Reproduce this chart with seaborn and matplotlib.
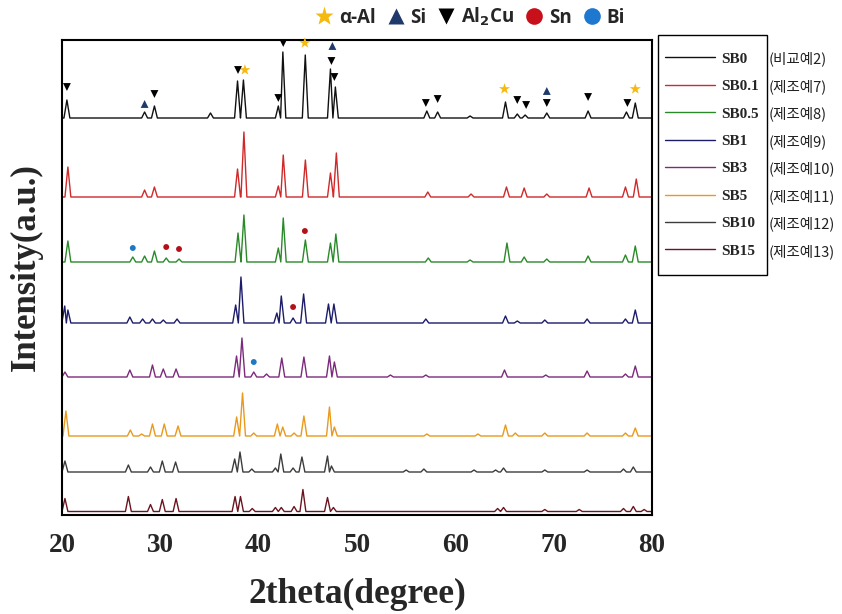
import numpy as np
import pandas as pd
import matplotlib.pyplot as plt
from matplotlib.lines import Line2D
from matplotlib.patches import Rectangle
import seaborn as sns

# samples, top to bottom
samples = ["SB0", "SB0.1", "SB0.5", "SB1", "SB3", "SB5", "SB10", "SB15"]
notes = ["(비교예2)", "(제조예7)", "(제조예8)", "(제조예9)",
         "(제조예10)", "(제조예11)", "(제조예12)", "(제조예13)"]
colors = ["#111111", "#cf2a2a", "#2a8a2a", "#1c1c6a",
          "#7c2a7c", "#e99a1c", "#3c3c3c", "#6a1420"]
# vertical stacking of the patterns (baseline of each trace)
offsets = [397, 318, 253, 192, 138, 79, 43, 3.5]

# peak positions (2theta) and heights
sb0_pos = [20.5, 28.4, 29.4, 35.1, 37.85, 38.45, 42.0, 42.46, 44.74, 47.3, 47.8,
           57.1, 58.2, 61.5, 65.1, 66.3, 67.1, 69.3, 73.5, 77.4, 78.3]
sb0_int = [18, 6, 12, 5, 37, 38, 12, 66, 63, 49, 31,
           7, 6, 2, 16, 4, 3, 5, 7, 6, 15]
sb01_pos = [20.6, 28.4, 29.4, 37.85, 38.5, 42.0, 42.5, 44.75, 47.3, 47.9,
            57.2, 61.6, 65.2, 67.0, 69.3, 73.6, 77.3, 78.4]
sb01_int = [30, 7, 10, 28, 65, 11, 42, 37, 24, 44,
            5, 3, 10, 9, 3, 9, 10, 18]
sb05_pos = [20.6, 27.2, 28.4, 29.4, 30.6, 31.9, 37.9, 38.5, 42.0, 42.5, 44.75,
            47.3, 47.85, 57.25, 61.5, 65.25, 67.0, 69.3, 73.5, 77.3, 78.3]
sb05_int = [21, 5, 6, 11, 4, 3, 29, 47, 14, 44, 22,
            19, 28, 4, 2, 19, 5, 3, 6, 7, 16]
sb1_pos = [20.28, 20.6, 26.9, 28.2, 29.2, 30.3, 31.7, 37.66, 38.2, 41.85, 42.3,
           43.5, 44.57, 47.1, 47.65, 57.0, 65.1, 66.3, 69.1, 73.4, 77.3, 78.3]
sb1_int = [17, 13, 6, 4, 4, 3, 4, 18, 46, 10, 27,
           5, 29, 19, 19, 4, 7, 2, 3, 4, 4, 13]
sb3_pos = [20.3, 26.9, 29.2, 30.3, 31.6, 37.75, 38.3, 39.5, 40.8, 42.35, 44.6,
           47.2, 47.7, 53.4, 57.0, 65.0, 69.2, 73.4, 77.3, 78.3]
sb3_int = [5, 7, 12, 8, 8, 21, 39, 5, 3, 19, 20,
           21, 15, 2, 2, 7, 2, 6, 3, 11]
sb5_pos = [20.4, 26.95, 28.1, 29.2, 30.4, 31.8, 37.76, 38.36, 39.5, 41.9, 42.45,
           43.6, 44.6, 47.2, 47.7, 57.1, 62.3, 65.1, 66.1, 69.1, 73.4, 77.3, 78.3]
sb5_int = [25, 6, 2, 12, 12, 10, 19, 43, 3, 12, 9,
           3, 20, 29, 9, 2, 2, 11, 3, 3, 3, 3, 8]
sb10_pos = [20.3, 26.75, 29.0, 30.2, 31.55, 37.56, 38.1, 39.3, 41.7, 42.25, 43.5,
            44.4, 47.0, 47.4, 55.0, 56.8, 61.9, 64.1, 64.9, 69.1, 73.4, 77.1, 78.1]
sb10_int = [11, 7, 5, 11, 10, 13, 20, 3, 4, 18, 4,
            15, 16, 6, 2, 3, 2, 2, 4, 2, 2, 3, 5]
sb15_pos = [20.3, 26.75, 29.0, 30.2, 31.6, 37.6, 38.15, 39.35, 41.7, 42.3, 43.6,
            44.5, 47.0, 47.6, 64.3, 64.9, 69.1, 72.6, 77.1, 78.1, 79.2]
sb15_int = [13, 15, 7, 12, 13, 15, 15, 3, 4, 4, 5,
            22, 14, 4, 3, 4, 2, 2, 3, 5, 2]

peak_pos = [sb0_pos, sb01_pos, sb05_pos, sb1_pos, sb3_pos, sb5_pos, sb10_pos, sb15_pos]
peak_int = [sb0_int, sb01_int, sb05_int, sb1_int, sb3_int, sb5_int, sb10_int, sb15_int]

# phase markers: 2theta, pattern index, height above that pattern's baseline
al_pos = [38.6, 44.7, 65.0, 78.3]
al_row = [0, 0, 0, 0]
al_lift = [48, 75, 29, 29]
si_pos = [28.4, 47.5, 69.3]
si_row = [0, 0, 0]
si_lift = [14, 72, 27]
cu_pos = [20.5, 29.4, 37.9, 42.0, 42.5, 47.4, 47.7, 57.0, 58.2, 66.3, 67.2, 69.3, 73.5, 77.5]
cu_row = [0] * 14
cu_lift = [31, 24, 48, 20, 75, 57, 41, 15, 19, 18, 13, 15, 21, 15]
sn_pos = [30.6, 31.9, 44.7, 43.5]
sn_row = [2, 2, 2, 3]
sn_lift = [15, 13, 31, 16]
bi_pos = [27.2, 39.5]
bi_row = [2, 4]
bi_lift = [14, 15]


def profile(pos, inten, w=0.3):
    # join peak tops with the baseline so every peak becomes a sharp spike
    xs, ys = [20.0], [0.0]
    for i, (p, h) in enumerate(zip(pos, inten)):
        left = w if i == 0 else min(w, (p - pos[i - 1]) / 2)
        right = w if i == len(pos) - 1 else min(w, (pos[i + 1] - p) / 2)
        xs += [p - left, p, p + right]
        ys += [0.0, h, 0.0]
    xs.append(80.0)
    ys.append(0.0)
    return xs, ys


rows = []
for name, pos, inten, off in zip(samples, peak_pos, peak_int, offsets):
    xs, ys = profile(pos, inten)
    for k, (x, y) in enumerate(zip(xs, ys)):
        rows.append({"sample": name, "k": k, "two_theta": x, "intensity": y + off})
df = pd.DataFrame(rows)

sns.set_style("white")
fig = plt.figure(figsize=(8.42, 6.14), dpi=100)
ax = fig.add_axes([62 / 842, 1 - 515 / 614, 590 / 842, 475 / 614])

sns.lineplot(data=df, x="two_theta", y="intensity", hue="sample", hue_order=samples,
             palette=colors, estimator=None, sort=False, units="sample",
             linewidth=1.0, legend=False, ax=ax)


def phase_points(pos, row, lift):
    return pd.DataFrame({"x": pos, "y": [offsets[r] + l for r, l in zip(row, lift)]})


markers = [
    (al_pos, al_row, al_lift, "*", "#f6b90e", 70),
    (si_pos, si_row, si_lift, "^", "#1f3a6a", 32),
    (cu_pos, cu_row, cu_lift, "v", "#000000", 32),
    (sn_pos, sn_row, sn_lift, "o", "#b4101a", 18),
    (bi_pos, bi_row, bi_lift, "o", "#1f78c4", 18),
]
for pos, row, lift, m, c, s in markers:
    pts = phase_points(pos, row, lift)
    sns.scatterplot(data=pts, x="x", y="y", marker=m, color=c, s=s,
                    edgecolor="none", ax=ax, clip_on=False, zorder=5)

ax.set_xlim(20, 80)
ax.set_ylim(0, 475)
ax.set_xticks(np.arange(20, 81, 10))
ax.set_xticks(np.arange(25, 80, 10), minor=True)
ax.set_yticks([])
ax.tick_params(axis="x", which="major", direction="out", length=7, width=1.4,
               labelsize=19.5, pad=6)
ax.tick_params(axis="x", which="minor", direction="out", length=4, width=1.4)
for lab in ax.get_xticklabels():
    lab.set_family("Liberation Serif")
    lab.set_weight("bold")
for sp in ax.spines.values():
    sp.set_linewidth(1.5)
    sp.set_color("black")

ax.set_xlabel("2theta(degree)", family="Liberation Serif", weight="bold",
              fontsize=25.5, labelpad=14)
ax.set_ylabel("Intensity(a.u.)", family="Liberation Serif", weight="bold",
              fontsize=25)
ax.yaxis.set_label_coords(-0.032, 0.522)

# sample legend box to the right of the plot
fig.patches.append(Rectangle((658 / 842, 1 - 275 / 614), 109 / 842, 240 / 614,
                             transform=fig.transFigure, fill=False,
                             edgecolor="black", linewidth=1.0))
handles = [Line2D([], [], color=c, lw=1.0) for c in colors]
leg = ax.legend(handles, samples, loc="upper left",
                bbox_to_anchor=(665 / 842, 1 - 52 / 614),
                bbox_transform=fig.transFigure, borderaxespad=0,
                prop={"family": "Liberation Serif", "weight": "bold", "size": 11},
                handlelength=3.3, handletextpad=0.35, labelspacing=0.9,
                borderpad=0, frameon=False)

# phase legend on top
phase_handles = [
    Line2D([], [], ls="none", marker="*", ms=14, color="#f6b90e", mec="none"),
    Line2D([], [], ls="none", marker="^", ms=11, color="#1f3a6a", mec="none"),
    Line2D([], [], ls="none", marker="v", ms=11, color="#000000", mec="none"),
    Line2D([], [], ls="none", marker="o", ms=12, color="#c8101a", mec="none"),
    Line2D([], [], ls="none", marker="o", ms=12, color="#1f78d0", mec="none"),
]
phase_labels = ["α-Al", "Si", r"Al$_\mathbf{2}$Cu", "Sn", "Bi"]
fig.legend(phase_handles, phase_labels, loc="center", ncol=5,
           bbox_to_anchor=(470 / 842, 1 - 17 / 614), frameon=False,
           prop={"family": "Open Sans", "weight": "bold", "size": 13.5},
           handlelength=1.0, handletextpad=0.3, columnspacing=0.55,
           borderaxespad=0, borderpad=0)

# Korean notes beside each legend row, just outside the box
fig.canvas.draw()
renderer = fig.canvas.get_renderer()
W, H = fig.get_size_inches() * fig.dpi
for txt, note in zip(leg.get_texts(), notes):
    bb = txt.get_window_extent(renderer)
    fig.text(769 / 842, (bb.y0 + bb.y1) / 2 / H, note, ha="left", va="center",
             family=["Noto Sans CJK KR", "DejaVu Sans"], fontsize=10.5,
             color="#222222")

fig.savefig("out.png", dpi=100)
